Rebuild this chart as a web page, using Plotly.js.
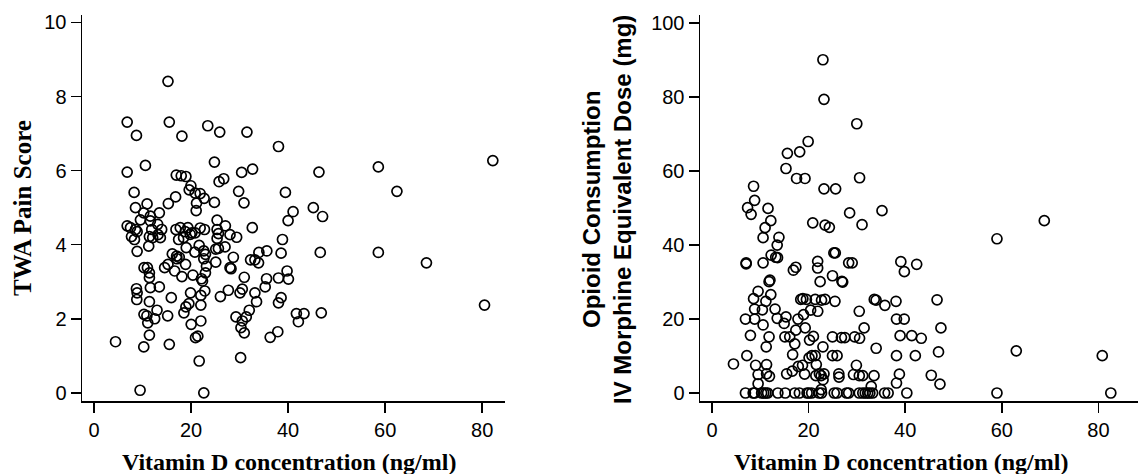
<!DOCTYPE html>
<html>
<head>
<meta charset="utf-8">
<script src="https://cdn.plot.ly/plotly-3.0.1.min.js"></script>
<style>html,body{margin:0;padding:0;background:#fff;}#chart{width:1138px;height:474px;}</style>
</head>
<body>
<div id="chart"></div>
<script>
// ---- Data ----
const vitD_pain = [15.25,6.84,15.52,23.45,25.91,31.52,8.75,18.12,38.02,82.19,24.82,10.60,58.60,32.68,6.84,46.36,30.43,16.96,17.98,18.94,26.74,25.78,19.97,19.62,29.81,62.43,8.27,39.45,20.85,21.88,16.82,22.70,15.32,21.13,24.82,30.91,10.94,8.55,45.20,21.06,41.03,10.26,13.47,11.62,47.11,9.57,25.37,40.00,11.62,13.13,6.84,27.08,32.62,7.52,17.78,19.35,21.88,8.55,11.90,13.95,16.89,22.77,25.37,8.89,18.80,25.64,20.17,20.85,19.83,28.03,29.40,13.20,7.73,11.42,12.10,13.68,18.46,25.37,8.34,38.84,17.44,11.28,21.68,20.79,27.01,25.64,19.01,22.63,25.09,46.63,58.60,35.62,33.98,16.14,38.56,8.89,22.97,17.03,28.72,17.09,17.57,22.63,33.16,32.27,25.09,68.51,33.91,18.87,15.25,23.18,10.32,11.01,14.56,28.03,28.24,39.79,16.62,11.42,22.97,20.38,18.12,30.97,11.42,35.56,38.02,40.07,22.15,22.36,13.47,11.62,35.28,8.75,19.90,27.69,30.56,22.84,8.89,30.09,33.16,26.05,22.02,15.93,38.56,8.82,11.42,33.50,38.02,19.56,80.48,22.02,18.94,12.99,32.00,46.84,18.53,41.71,43.28,10.30,10.90,15.18,31.38,29.26,12.51,22.02,30.56,42.12,11.08,20.03,30.29,37.88,30.97,11.42,21.40,36.31,20.92,4.44,15.52,10.26,30.22,21.68,9.50,22.63];
const pain = [8.41,7.31,7.31,7.21,7.04,7.04,6.95,6.93,6.65,6.27,6.23,6.14,6.10,6.04,5.96,5.96,5.95,5.88,5.86,5.84,5.78,5.70,5.59,5.48,5.44,5.44,5.41,5.41,5.39,5.38,5.29,5.25,5.11,5.12,5.14,5.13,5.10,5.00,5.00,4.92,4.89,4.86,4.86,4.77,4.76,4.67,4.66,4.65,4.64,4.55,4.51,4.51,4.46,4.46,4.46,4.46,4.45,4.41,4.41,4.41,4.41,4.41,4.41,4.35,4.35,4.30,4.32,4.32,4.28,4.27,4.20,4.27,4.22,4.22,4.19,4.19,4.19,4.17,4.14,4.14,4.14,3.96,3.98,3.80,3.94,3.90,3.92,3.83,3.88,3.79,3.79,3.83,3.79,3.75,3.77,3.82,3.74,3.69,3.66,3.62,3.66,3.62,3.59,3.59,3.53,3.51,3.51,3.47,3.47,3.42,3.38,3.38,3.38,3.38,3.35,3.29,3.29,3.24,3.24,3.18,3.14,3.12,3.11,3.08,3.10,3.07,3.08,3.02,2.86,2.84,2.86,2.81,2.70,2.77,2.80,2.75,2.70,2.70,2.70,2.60,2.63,2.57,2.57,2.52,2.46,2.46,2.43,2.41,2.37,2.37,2.32,2.23,2.23,2.16,2.16,2.14,2.14,2.12,2.08,2.08,2.05,2.05,2.00,1.94,1.94,1.92,1.89,1.85,1.76,1.65,1.62,1.56,1.53,1.50,1.49,1.38,1.31,1.24,0.95,0.86,0.07,0.00];

const vitD_opioid = [22.97,23.19,29.98,19.91,15.61,18.16,15.32,17.51,19.26,30.56,8.61,23.19,25.6,8.83,7.37,11.6,8.1,12.18,28.5,35.2,68.8,20.86,23.41,24.3,31.07,11.0,59.0,10.58,13.86,13.5,12.25,13.2,13.57,7.07,7.07,10.58,21.88,21.88,25.24,25.53,28.3,29.03,39.1,42.38,39.83,16.85,17.36,24.95,22.39,26.9,27.06,11.82,12.0,9.55,12.18,8.61,11.16,18.38,18.82,19.55,21.37,22.68,23.41,25.46,33.6,33.97,35.8,38.1,46.6,8.83,10.43,13.06,15.32,21.9,20.42,30.49,6.93,8.83,13.5,17.8,18.96,38.2,39.8,10.58,14.94,17.36,19.3,31.5,47.4,7.96,11.82,15.1,16.1,21.0,24.95,26.8,27.5,29.54,30.56,38.95,41.36,43.33,20.2,17.14,11.23,22.97,33.99,63.0,46.9,16.7,7.22,20.7,21.37,24.95,25.9,38.2,42.1,80.8,20.1,4.45,9.04,11.3,17.87,18.74,21.6,29.9,9.55,11.3,11.9,15.46,16.63,19.18,21.5,22.24,22.6,23.19,23.0,26.26,26.3,29.3,30.5,31.2,33.55,38.8,45.4,32.97,38.2,47.2,9.55,22.6,6.93,8.53,8.83,10.28,10.72,11.16,11.52,13.64,15.17,17.14,18.09,19.69,20.06,20.64,22.17,22.68,25.31,25.89,27.86,28.3,30.49,31.22,31.73,32.24,32.68,33.26,35.74,36.47,40.34,59.0,82.57];
const opioid = [90.1,79.4,72.8,68.0,64.8,65.2,60.7,58.0,58.0,58.2,55.9,55.2,55.2,52.1,50.1,49.9,48.3,46.6,48.7,49.3,46.6,46.0,45.4,44.8,45.5,44.7,41.7,42.0,42.1,40.0,37.3,36.7,36.6,35.2,34.9,35.2,35.6,33.8,37.9,37.9,35.2,35.2,35.5,34.8,32.8,33.2,34.0,31.7,30.1,30.2,30.0,30.1,30.5,27.5,26.6,25.5,24.8,25.3,25.5,25.3,25.3,25.1,25.3,24.8,25.3,25.1,23.7,24.8,25.2,22.7,22.5,22.7,20.6,22.1,22.4,22.1,20.0,20.0,20.2,20.0,21.2,20.0,20.0,18.4,18.8,17.0,17.6,17.6,17.6,15.6,15.2,15.2,15.2,15.3,15.2,15.0,15.0,15.2,14.8,15.5,15.5,14.8,14.3,13.3,12.5,12.5,12.1,11.4,11.1,10.4,10.1,10.1,10.1,10.1,10.1,10.1,10.1,10.1,9.5,7.85,7.5,7.7,7.2,7.5,7.7,7.5,5.0,5.2,4.5,5.2,5.9,5.1,4.7,5.2,4.7,5.2,3.6,5.2,4.3,5.0,4.7,4.7,4.7,5.1,4.8,1.8,2.7,2.4,2.5,0.9,0,0,0,0,0,0,0,0,0,0,0,0,0,0,0,0,0,0,0,0,0,0,0,0,0,0,0,0,0,0,0];

const vitDTicks = [0,20,40,60,80];
const painTicks = [0,2,4,6,8,10];
const opioidTicks = [0,20,40,60,80,100];

const xTitle = 'Vitamin D concentration (ng/ml)';
const painTitle = 'TWA Pain Score';
const opioidTitle = ['Opioid Consumption','IV Morphine Equivalent Dose (mg)'];

// ---- Styling ----
const W = 1138, H = 474;
const mk = {symbol:'circle-open', size:10, color:'#000', line:{width:1.7, color:'#000'}};
const tickFont = {family:'"Liberation Sans", Arial, sans-serif', size:20, color:'#000'};
const serifBold = {family:'"Liberation Serif", "Times New Roman", serif', size:24, color:'#000'};
const serifBoldY = {family:'"Liberation Serif", "Times New Roman", serif', size:25, color:'#000'};
const sansBold = {family:'"Liberation Sans", Arial, sans-serif', size:24, color:'#000'};
const yTop = 15, yBot = 401;
const ydom = [1 - yBot/H, 1 - yTop/H];

function axisBase(extra){
  return Object.assign({
    showgrid:false, zeroline:false, showline:true, linecolor:'#000', linewidth:1.5,
    ticks:'outside', ticklen:10, tickwidth:1.5, tickcolor:'#000', tickfont:tickFont,
    mirror:false, fixedrange:true, automargin:false
  }, extra);
}

const traces = [
  {type:'scatter', mode:'markers', x:vitD_pain, y:pain, xaxis:'x', yaxis:'y', marker:mk, hoverinfo:'skip'},
  {type:'scatter', mode:'markers', x:vitD_opioid, y:opioid, xaxis:'x2', yaxis:'y2', marker:mk, hoverinfo:'skip', cliponaxis:true}
];

const layout = {
  width:W, height:H, margin:{l:0,r:0,t:0,b:0}, showlegend:false,
  paper_bgcolor:'#fff', plot_bgcolor:'#fff',
  xaxis: axisBase({domain:[82/W, 505/W], range:[-2.47, 84.7], tickvals:vitDTicks, anchor:'y'}),
  yaxis: axisBase({domain:ydom, range:[-0.22, 10.2], tickvals:painTicks, anchor:'x'}),
  xaxis2: axisBase({domain:[700/W, 1], range:[-2.48, 88.2], tickvals:vitDTicks, anchor:'y2'}),
  yaxis2: axisBase({domain:ydom, range:[-2.16, 102.2], tickvals:opioidTicks, anchor:'x2'}),
  annotations:[
    {xref:'paper', yref:'paper', x:289/W, y:1-462/H, xanchor:'center', yanchor:'middle', showarrow:false, text:'<b>'+xTitle+'</b>', font:serifBold},
    {xref:'paper', yref:'paper', x:901/W, y:1-462/H, xanchor:'center', yanchor:'middle', showarrow:false, text:'<b>'+xTitle+'</b>', font:serifBold},
    {xref:'paper', yref:'paper', x:22/W, y:1-208/H, xanchor:'center', yanchor:'middle', showarrow:false, textangle:-90, text:'<b>'+painTitle+'</b>', font:serifBoldY},
    {xref:'paper', yref:'paper', x:607/W, y:1-210/H, xanchor:'center', yanchor:'middle', showarrow:false, textangle:-90, text:'<b>'+opioidTitle.join('<br>')+'</b>', font:sansBold}
  ]
};

Plotly.newPlot('chart', traces, layout, {staticPlot:true, displayModeBar:false});
</script>
</body>
</html>
